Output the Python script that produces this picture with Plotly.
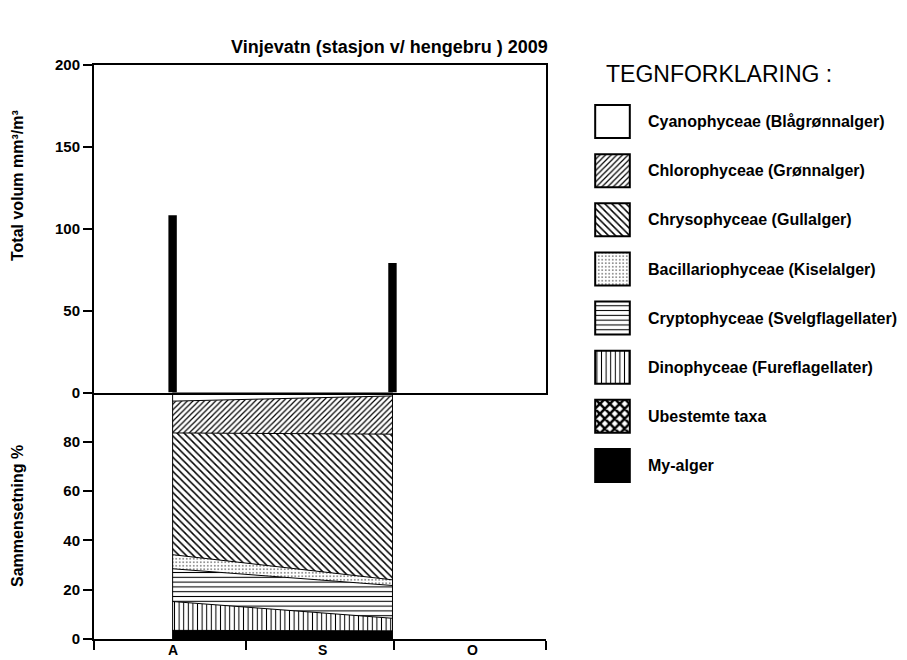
import plotly.graph_objects as go

# ---------------- data ----------------
sample_dates = ["2009-08-17", "2009-09-30 18:00"]
total_volume = [108.3, 79.1]          # mm3/m3

month_starts = ["2009-08-01", "2009-09-01", "2009-10-01", "2009-11-01"]
month_mids = ["2009-08-17", "2009-09-16 12:00", "2009-10-17"]
month_labels = ["A", "S", "O"]

# composition (%), stacked from bottom to top
groups_bottom_up = [
    "My-alger",
    "Ubestemte taxa",
    "Dinophyceae (Fureflagellater)",
    "Cryptophyceae (Svelgflagellater)",
    "Bacillariophyceae (Kiselalger)",
    "Chrysophyceae (Gullalger)",
    "Chlorophyceae (Grønnalger)",
    "Cyanophyceae (Blågrønnalger)",
]
pct_my = [3.5, 3.3]
pct_ubest = [0.0, 0.0]
pct_dino = [11.7, 5.1]
pct_crypto = [13.3, 13.3]
pct_bacil = [5.7, 2.3]
pct_chryso = [49.4, 59.1]
pct_chloro = [12.9, 15.5]
pct_cyano = [3.5, 1.4]
pct_series = [pct_my, pct_ubest, pct_dino, pct_crypto, pct_bacil,
              pct_chryso, pct_chloro, pct_cyano]

legend_order = list(reversed(groups_bottom_up))

# ---------------- styles ----------------
FONT = "Liberation Sans"
styles = {
    "My-alger": dict(shape="", fill="black"),
    "Ubestemte taxa": dict(shape="x", size=7, solidity=0.6, fill="white"),
    "Dinophyceae (Fureflagellater)": dict(shape="|", size=4.6, solidity=0.22, fill="white"),
    "Cryptophyceae (Svelgflagellater)": dict(shape="-", size=4.8, solidity=0.22, fill="white"),
    "Bacillariophyceae (Kiselalger)": dict(shape=".", size=3.5, solidity=0.12, fill="white"),
    "Chrysophyceae (Gullalger)": dict(shape="\\", size=5, solidity=0.3, fill="white"),
    "Chlorophyceae (Grønnalger)": dict(shape="/", size=4, solidity=0.3, fill="white"),
    "Cyanophyceae (Blågrønnalger)": dict(shape="", fill="white"),
}

OFF = 8                      # page body margin
W, H = 907 - OFF, 660 - OFF
L, R, T = 94 - OFF, 10, 65 - OFF
B = H - (639 - OFF)
pw = W - L - R
ph = H - T - B

def px_x(x):
    return (x - OFF - L) / pw

def px_y(y):
    return (H - B - (y - OFF)) / ph

split = px_y(392.5)
main_dom = [0, px_x(546)]

fig = go.Figure()

# top panel: total volume bars
bar_width_ms = 1.71 * 86400000
fig.add_trace(go.Bar(x=sample_dates, y=total_volume, xaxis="x2", yaxis="y2",
                     width=[bar_width_ms] * len(sample_dates),
                     marker=dict(color="black", line=dict(width=0)),
                     showlegend=False))

# bottom panel: stacked composition
for name, vals in zip(groups_bottom_up, pct_series):
    st = styles[name]
    kw = {}
    if st["shape"]:
        kw["fillpattern"] = dict(shape=st["shape"], size=st["size"], solidity=st["solidity"],
                                 fgcolor="black", bgcolor="white", fillmode="replace")
    fig.add_trace(go.Scatter(x=sample_dates, y=vals, stackgroup="comp", mode="lines",
                             line=dict(color="black", width=1), fillcolor=st["fill"],
                             name=name, showlegend=False, **kw))

# vertical edges of the composition block
totals = [sum(s[i] for s in pct_series) for i in range(len(sample_dates))]
edge_x, edge_y = [], []
for d, t in zip(sample_dates, totals):
    edge_x += [d, d, None]
    edge_y += [0, t, None]
fig.add_trace(go.Scatter(x=edge_x, y=edge_y, mode="lines", line=dict(color="black", width=1),
                         showlegend=False, hoverinfo="skip"))

# legend patches drawn as bars on an auxiliary axis
for name in legend_order:
    st = styles[name]
    marker = dict(color=st["fill"], line=dict(color="black", width=2))
    if st["shape"]:
        marker["pattern"] = dict(shape=st["shape"], size=st["size"], solidity=st["solidity"],
                                 fgcolor="black", bgcolor="white", fillmode="replace")
    fig.add_trace(go.Bar(x=[1], y=[name], orientation="h", xaxis="x4", yaxis="y4",
                         marker=marker, showlegend=False, width=0.672))

tickfont = dict(family=FONT, size=15, color="black", weight="bold")
axis_common = dict(showgrid=False, zeroline=False, linecolor="black", linewidth=2,
                   tickcolor="black", tickwidth=2, tickfont=tickfont)

leg_top = 121.5 - 24.55
leg_bot = 465.5 + 24.55

annotations = [
    dict(text="Vinjevatn (stasjon v/ hengebru ) 2009", xref="paper", yref="paper",
         x=px_x(389), y=px_y(47), xanchor="center", yanchor="middle", showarrow=False,
         font=dict(family=FONT, size=18, color="black", weight="bold")),
    dict(text="Total volum mm³/m³", xref="paper", yref="paper",
         x=px_x(17), y=px_y(186), xanchor="center", yanchor="middle", showarrow=False,
         textangle=-90, font=dict(family=FONT, size=16, color="black", weight="bold")),
    dict(text="Sammensetning %", xref="paper", yref="paper",
         x=px_x(17), y=px_y(516), xanchor="center", yanchor="middle", showarrow=False,
         textangle=-90, font=dict(family=FONT, size=16, color="black", weight="bold")),
    dict(text="TEGNFORKLARING :", xref="paper", yref="paper",
         x=px_x(719), y=px_y(74), xanchor="center", yanchor="middle", showarrow=False,
         font=dict(family=FONT, size=23, color="black")),
]
for mx, ml in zip(month_mids, month_labels):
    annotations.append(dict(text=ml, xref="x", yref="paper", x=mx, y=px_y(650),
                            xanchor="center", yanchor="middle", showarrow=False,
                            font=dict(family=FONT, size=14, color="black", weight="bold")))

fig.update_layout(
    width=W, height=H,
    margin=dict(l=L, r=R, t=T, b=B, autoexpand=False),
    paper_bgcolor="white", plot_bgcolor="white",
    showlegend=False, barmode="overlay",
    xaxis=dict(domain=main_dom, anchor="y", type="date",
               range=[month_starts[0], month_starts[-1]],
               tickmode="array", tickvals=month_starts, ticktext=[""] * len(month_starts),
               ticks="outside", ticklen=9, showline=True, **axis_common),
    yaxis=dict(domain=[0, split], anchor="x", range=[0, 100],
               tickmode="array", tickvals=[0, 20, 40, 60, 80],
               ticks="outside", ticklen=9, showline=True, **axis_common),
    xaxis2=dict(domain=main_dom, anchor="y2", type="date",
                range=[month_starts[0], month_starts[-1]],
                showticklabels=False, ticks="", showline=True, mirror=True,
                showgrid=False, zeroline=False, linecolor="black", linewidth=2),
    yaxis2=dict(domain=[split, 1], anchor="x2", range=[0, 200], dtick=50,
                ticks="outside", ticklen=9, showline=True, mirror=True, **axis_common),
    xaxis4=dict(domain=[px_x(590), px_x(635)], anchor="y4", range=[-0.15, 1.15],
                visible=False),
    yaxis4=dict(domain=[px_y(leg_bot), px_y(leg_top)], anchor="x4", side="right",
                type="category", categoryorder="array", categoryarray=legend_order,
                autorange="reversed", showline=False, showgrid=False, zeroline=False,
                ticks="", ticklabelstandoff=12,
                tickfont=dict(family=FONT, size=16, color="black", weight="bold")),
    annotations=annotations,
)

fig.write_html("out.html")
